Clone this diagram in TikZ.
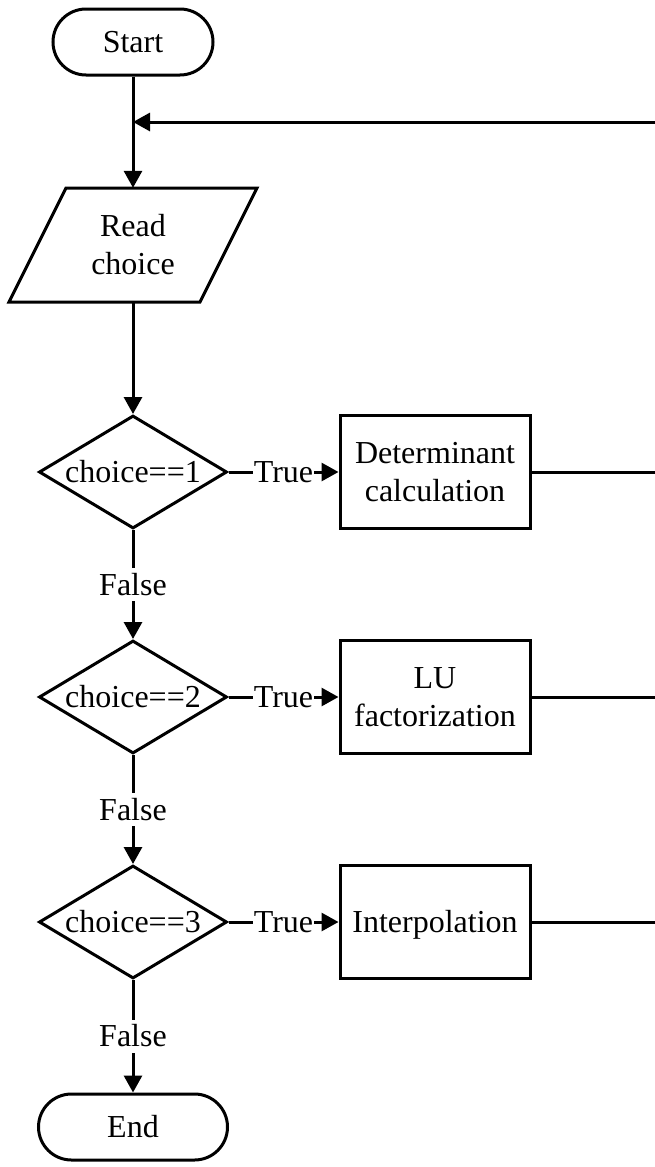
\documentclass[tikz,border=0pt]{standalone}
\usepackage{fontspec}
\setmainfont{Liberation Serif}
\usetikzlibrary{shapes.geometric,arrows.meta}
\begin{document}
\begin{tikzpicture}[x=1pt,y=-1pt,
  every node/.style={font=\fontsize{32}{38}\selectfont, align=center},
  oneline/.style={text height=21.2pt,text depth=0pt},
  ln/.style={line width=3pt},
  arr/.style={ln,-{Triangle[length=17pt,width=18pt]}},
  term/.style={draw,ln,oneline,minimum width=#1,minimum height=66pt,rounded corners=33pt,inner sep=0pt},
  procbox/.style={draw,ln,minimum width=190pt,minimum height=113pt,inner sep=0pt},
  decision/.style={draw,ln,oneline,shape=diamond,shape aspect=1.66,minimum width=188pt,minimum height=113pt,inner sep=0pt},
  lbl/.style={fill=white,oneline,inner xsep=1pt,inner ysep=6pt}]
\useasboundingbox (0,0) rectangle (655,1167);
% nodes
\node[term=160pt] (start) at (133,42) {Start};
\node[minimum width=190pt,minimum height=114pt,inner sep=0pt] (read) at (133,245) {Read\\choice};
\draw[ln,line join=miter] (66,188) -- (257,188) -- (200,302) -- (9,302) -- cycle;
\node[decision] (d1) at (133,472) {choice==1};
\node[procbox] (b1) at (435,472) {Determinant\\calculation};
\node[decision] (d2) at (133,697) {choice==2};
\node[procbox] (b2) at (435,697) {LU\\factorization};
\node[decision] (d3) at (133,922) {choice==3};
\node[procbox,oneline] (b3) at (435,922) {Interpolation};
\node[term=189pt] (end) at (133,1127) {End};
\coordinate (join) at (133,122);
\coordinate (fb) at (655,122);
\coordinate (r1) at (655,472);
\coordinate (r2) at (655,697);
\coordinate (r3) at (655,922);
% connectors
\draw[arr] (start.south) -- (read.north);
\draw[arr] (fb) -- (join);
\draw[arr] (read.south) -- (d1.north);
\draw[arr] (d1.east) -- node[lbl]{True} (b1.west);
\draw[arr] (d2.east) -- node[lbl]{True} (b2.west);
\draw[arr] (d3.east) -- node[lbl]{True} (b3.west);
\draw[ln] (b1.east) -- (r1);
\draw[ln] (b2.east) -- (r2);
\draw[ln] (b3.east) -- (r3);
\draw[arr] (d1.south) -- node[lbl]{False} (d2.north);
\draw[arr] (d2.south) -- node[lbl]{False} (d3.north);
\draw[arr] (d3.south) -- node[lbl]{False} (end.north);
\end{tikzpicture}
\end{document}
